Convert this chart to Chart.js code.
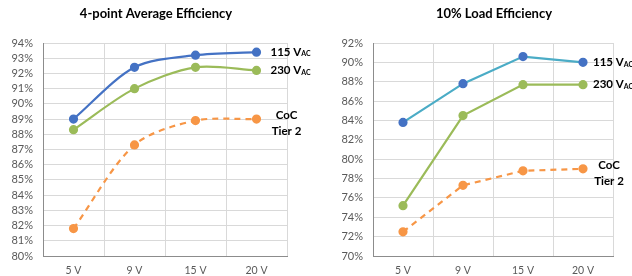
<!DOCTYPE html>
<html>
<head>
<meta charset="utf-8">
<script src="https://cdn.jsdelivr.net/npm/chart.js@4/dist/chart.umd.min.js"></script>
<style>
  html, body { margin: 0; padding: 0; background: #fff; }
  .wrap { display: flex; width: 632px; height: 276px; }
  .wrap div { width: 316px; height: 276px; }
</style>
</head>
<body>
<div class="wrap">
  <div><canvas id="avgChart" width="316" height="276"></canvas></div>
  <div><canvas id="loadChart" width="316" height="276"></canvas></div>
</div>
<script>
const categories = ['5 V', '9 V', '15 V', '20 V'];

// 4-point average efficiency (%)
const avg115 = [89.0, 92.4, 93.2, 93.4];
const avg230 = [88.3, 91.0, 92.4, 92.2];
const avgCoc = [81.8, 87.3, 88.9, 89.0];

// 10% load efficiency (%)
const load115 = [83.8, 87.8, 90.6, 90.0];
const load230 = [75.2, 84.5, 87.7, 87.7];
const loadCoc = [72.5, 77.3, 78.8, 79.0];

const FONT = 'Lato, "Open Sans", sans-serif';
const blue = '#4472c4';
const cyan = '#4bacc6';
const green = '#9bbb59';
const orange = '#f79646';

// draws the title and the labels at the end of each line
const endLabels = {
  id: 'endLabels',
  afterDatasetsDraw(chart, args, opts) {
    const c = chart.ctx;
    c.save();
    c.fillStyle = '#000';
    c.textBaseline = 'middle';
    c.font = 'bold 13px ' + FONT;
    c.textAlign = 'center';
    c.fillText(opts.title, opts.titleX, 14);

    chart.data.datasets.forEach((ds, i) => {
      const pts = chart.getDatasetMeta(i).data;
      const p = pts[pts.length - 1];
      if (ds.tag === 'coc') {
        c.textAlign = 'center';
        c.font = 'bold 11.5px ' + FONT;
        c.fillText('CoC', p.x + opts.cocDx, p.y - 4);
        c.fillText('Tier 2', p.x + opts.cocDx, p.y + 12);
      } else {
        c.textAlign = 'left';
        c.font = 'bold 11.5px ' + FONT;
        const x = p.x + opts.dx;
        c.fillText(ds.label, x, p.y);
        const w = c.measureText(ds.label).width;
        c.font = 'bold 7px ' + FONT;
        c.fillText('AC', x + w, p.y + 2);
      }
    });
    c.restore();
  }
};

function makeConfig(sets, yMin, yMax, step, tension, padRight, labelOpts) {
  return {
    type: 'line',
    data: {
      labels: categories,
      datasets: sets.map(s => ({
        label: s.label,
        tag: s.tag,
        data: s.data,
        borderColor: s.line,
        backgroundColor: s.point,
        pointBackgroundColor: s.point,
        pointBorderColor: s.point,
        pointRadius: 3.5,
        borderWidth: 2.2,
        borderDash: s.dash || [],
        tension: tension,
        fill: false
      }))
    },
    options: {
      responsive: false,
      animation: false,
      layout: { padding: { top: 43, left: 0, right: padRight, bottom: 0 } },
      plugins: {
        legend: { display: false },
        tooltip: { enabled: false },
        endLabels: labelOpts
      },
      scales: {
        x: {
          offset: true,
          afterFit: s => { s.height = 20; },
          grid: { offset: true, color: '#d9d9d9', drawTicks: false },
          border: { color: '#8c8c8c' },
          ticks: { color: '#595959', padding: 8, font: { family: FONT, size: 10.5 } }
        },
        y: {
          min: yMin,
          max: yMax,
          afterFit: s => { s.width = labelOpts.axisW; },
          grid: { color: '#d9d9d9', drawTicks: false },
          border: { color: '#8c8c8c' },
          ticks: {
            stepSize: step,
            autoSkip: false,
            padding: 10,
            color: '#595959',
            font: { family: FONT, size: 11 },
            callback: v => v + '%'
          }
        }
      }
    },
    plugins: [endLabels]
  };
}

new Chart(document.getElementById('avgChart'), makeConfig([
  { label: '115 V', data: avg115, line: blue, point: blue },
  { label: '230 V', data: avg230, line: green, point: green },
  { label: 'CoC', tag: 'coc', data: avgCoc, line: orange, point: orange, dash: [6, 5] }
], 80, 94, 1, 0.3, 29, { title: '4-point Average Efficiency', titleX: 156, dx: 14, cocDx: 30, axisW: 43 }));

new Chart(document.getElementById('loadChart'), makeConfig([
  { label: '115 V', data: load115, line: cyan, point: blue },
  { label: '230 V', data: load230, line: green, point: green },
  { label: 'CoC', tag: 'coc', data: loadCoc, line: orange, point: orange, dash: [6, 5] }
], 70, 92, 2, 0, 19, { title: '10% Load Efficiency', titleX: 178, dx: 10, cocDx: 26, axisW: 57 }));
</script>
</body>
</html>
